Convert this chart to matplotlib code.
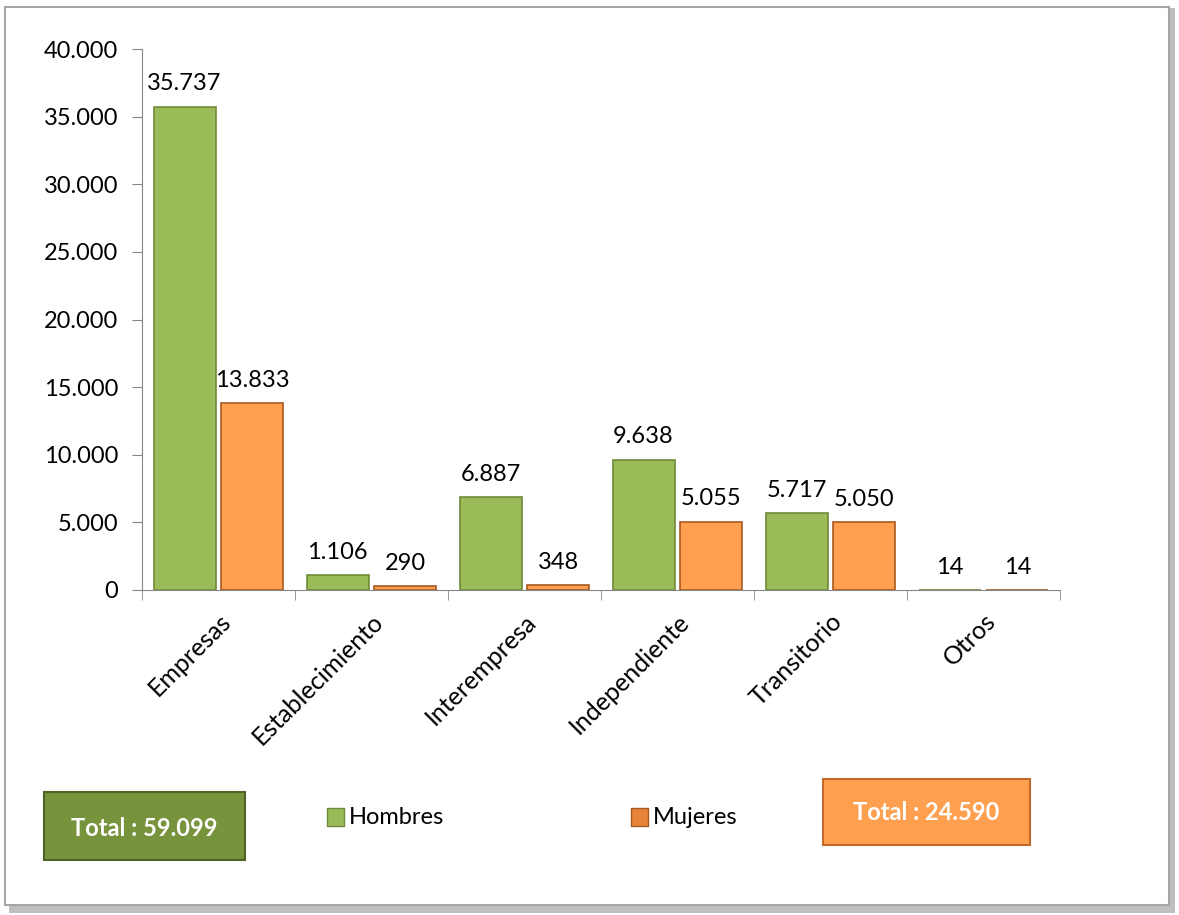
import matplotlib.pyplot as plt
import numpy as np
from matplotlib.patches import Rectangle

categorias = ["Empresas", "Establecimiento", "Interempresa", "Independiente", "Transitorio", "Otros"]
hombres = [35737, 1106, 6887, 9638, 5717, 14]
mujeres = [13833, 290, 348, 5055, 5050, 14]
etiquetas_h = ["35.737", "1.106", "6.887", "9.638", "5.717", "14"]
etiquetas_m = ["13.833", "290", "348", "5.055", "5.050", "14"]
yticks = [0, 5000, 10000, 15000, 20000, 25000, 30000, 35000, 40000]
ytick_labels = ["0", "5.000", "10.000", "15.000", "20.000", "25.000", "30.000", "35.000", "40.000"]
total_h = "Total : 59.099"
total_m = "Total : 24.590"

plt.rcParams['font.family'] = ['Lato', 'DejaVu Sans']

verde = "#9BBB59"
verde_borde = "#6F8A3A"
naranja = "#FF9F4F"
naranja_borde = "#A85A20"
fs = 17

fig = plt.figure(figsize=(11.79, 9.15), dpi=100)

# marco exterior con sombra
W, H = 1179, 915
fig.patches.append(Rectangle((9 / W, 1 - 913 / H), 1166 / W, 905 / H, transform=fig.transFigure,
                             facecolor="#BFBFBF", edgecolor="none", zorder=0))
fig.patches.append(Rectangle((5 / W, 1 - 905 / H), 1164 / W, 898 / H, transform=fig.transFigure,
                             facecolor="white", edgecolor="#A6A6A6", linewidth=1.5, zorder=0))

ax = fig.add_axes([142 / W, 1 - 590 / H, 918 / W, 541 / H])
ax.set_facecolor("none")
ax.set_zorder(3)

x = np.arange(len(categorias))
ancho = 0.405
desp = 0.222
ax.bar(x - desp, hombres, ancho, color=verde, edgecolor=verde_borde, linewidth=1.2)
ax.bar(x + desp, mujeres, ancho, color=naranja, edgecolor=naranja_borde, linewidth=1.2)

for i in range(len(categorias)):
    ax.text(x[i] - desp, hombres[i] + 900, etiquetas_h[i], ha="center", va="bottom", fontsize=fs)
    ax.text(x[i] + desp, mujeres[i] + 900, etiquetas_m[i], ha="center", va="bottom", fontsize=fs)

ax.set_xlim(-0.5, len(categorias) - 0.5)
ax.set_ylim(0, 40000)
ax.set_yticks(yticks)
ax.set_yticklabels(ytick_labels, fontsize=fs)
ax.set_xticks(x)
ax.set_xticklabels(categorias, rotation=45, ha="right", rotation_mode="anchor", fontsize=18)
ax.tick_params(axis="x", length=0, pad=14)
ax.set_xticks(np.arange(-0.5, len(categorias), 1), minor=True)
ax.tick_params(axis="x", which="minor", length=7, color="#868686")
ax.tick_params(axis="y", length=7, color="#868686", pad=10)
for s in ["top", "right"]:
    ax.spines[s].set_visible(False)
ax.spines["left"].set_color("#868686")
ax.spines["bottom"].set_color("#868686")

# cajas de totales
fig.patches.append(Rectangle((44 / W, 1 - 860 / H), 201 / W, 68 / H, transform=fig.transFigure,
                             facecolor="#77933C", edgecolor="#4F6228", linewidth=1.5, zorder=1))
fig.text(144 / W, 1 - 828 / H, total_h, ha="center", va="center", fontsize=fs,
         fontweight="bold", color="white")
fig.patches.append(Rectangle((823 / W, 1 - 845 / H), 207 / W, 66 / H, transform=fig.transFigure,
                             facecolor="#FFA050", edgecolor="#C0692A", linewidth=1.5, zorder=1))
fig.text(926 / W, 1 - 812 / H, total_m, ha="center", va="center", fontsize=fs,
         fontweight="bold", color="white")

# leyenda
fig.patches.append(Rectangle((327 / W, 1 - 826 / H), 17 / W, 18 / H, transform=fig.transFigure,
                             facecolor=verde, edgecolor=verde_borde, linewidth=1, zorder=1))
fig.text(349 / W, 1 - 817 / H, "Hombres", ha="left", va="center", fontsize=fs)
fig.patches.append(Rectangle((631 / W, 1 - 826 / H), 17 / W, 18 / H, transform=fig.transFigure,
                             facecolor="#E8833A", edgecolor=naranja_borde, linewidth=1, zorder=1))
fig.text(653 / W, 1 - 817 / H, "Mujeres", ha="left", va="center", fontsize=fs)

fig.savefig("out.png", dpi=100)
